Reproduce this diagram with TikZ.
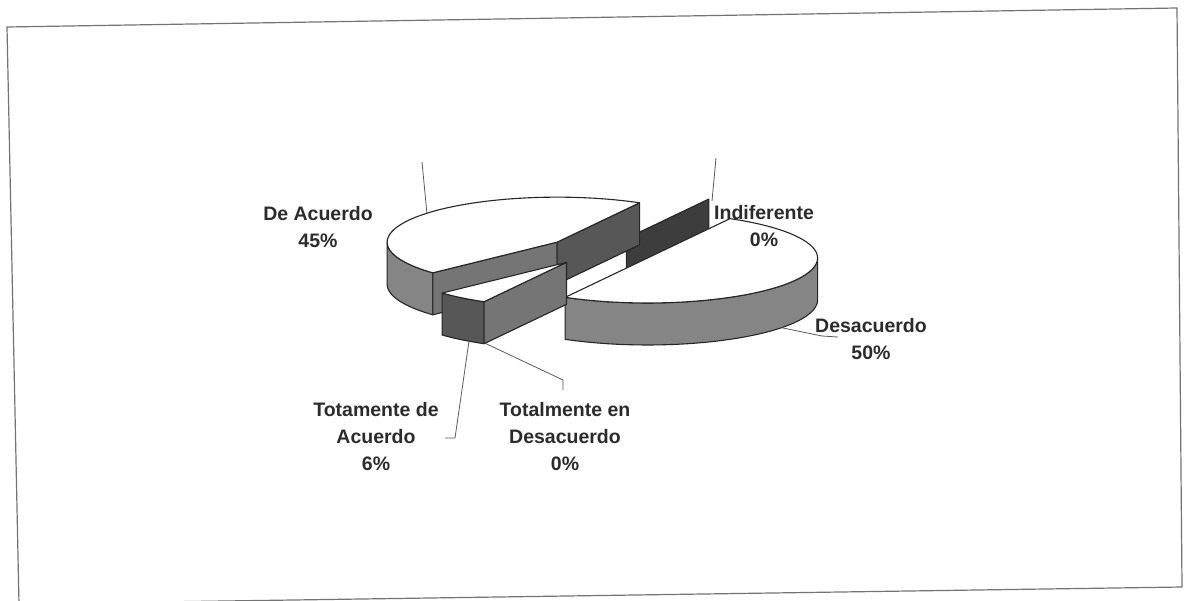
\documentclass[tikz,border=0pt]{standalone}
\usepackage{fontspec}
\setmainfont{Liberation Sans}
\usepackage{tikz}
\definecolor{side}{rgb}{0.52,0.52,0.52}
\definecolor{face}{rgb}{0.46,0.46,0.46}
\definecolor{darkface}{rgb}{0.34,0.34,0.34}
\definecolor{wall}{rgb}{0.24,0.24,0.24}
\definecolor{ink}{rgb}{0.17,0.17,0.17}

\begin{document}
\begin{tikzpicture}[x=1pt, y=-1pt,
	slice/.style={draw=black!85, line width=1.1pt, line join=round},
	label/.style={font=\fontsize{19.5}{27}\selectfont\bfseries, text=ink, align=center, inner sep=0pt},
	leader/.style={draw=black!65, line width=0.8pt}]
	\clip (0,0) rectangle (1188,600);
	\draw[black!55, line width=1.2pt] (7,27) -- (1177,8) -- (1182,587) -- (19,604) -- cycle;
	\def\rx{170} \def\ry{45} \def\h{42}
	% slice centres, pushed out along the middle angle
	\foreach \name/\mid in {ind/61, acu/142, des/-29, tot/232}{
	  \coordinate (\name) at ({600+0.32*\rx*cos(\mid)},{251-0.32*\ry*sin(\mid)});
	}
	% Indiferente (0%)
	\begin{scope}[shift={(ind)}]
		\filldraw[slice, fill=wall] (0,0) -- ({\rx*cos(61)},{-\ry*sin(61)}) -- ++(0,\h) -- (0,\h) -- cycle;
	\end{scope}
	% De Acuerdo
	\begin{scope}[shift={(acu)}]
		\filldraw[slice, fill=side] plot[domain=180:223, variable=\t, samples=20] ({\rx*cos(\t)},{-\ry*sin(\t)})
		  -- plot[domain=223:180, variable=\t, samples=20] ({\rx*cos(\t)},{\h-\ry*sin(\t)}) -- cycle;
		\filldraw[slice, fill=face] (0,0) -- ({\rx*cos(223)},{-\ry*sin(223)}) -- ++(0,\h) -- (0,\h) -- cycle;
		\filldraw[slice, fill=darkface] (0,0) -- ({\rx*cos(61)},{-\ry*sin(61)}) -- ++(0,\h) -- (0,\h) -- cycle;
		\filldraw[slice, fill=white] (0,0) -- plot[domain=61:223, variable=\t, samples=50] ({\rx*cos(\t)},{-\ry*sin(\t)}) -- cycle;
		\coordinate (acu-tip) at ({\rx*cos(140)},{-\ry*sin(140)});
	\end{scope}
	% Desacuerdo
	\begin{scope}[shift={(des)}]
		\filldraw[slice, fill=side] plot[domain=-119:0, variable=\t, samples=40] ({\rx*cos(\t)},{-\ry*sin(\t)})
		  -- plot[domain=0:-119, variable=\t, samples=40] ({\rx*cos(\t)},{\h-\ry*sin(\t)}) -- cycle;
		\filldraw[slice, fill=white] plot[domain=-119:61, variable=\t, samples=60] ({\rx*cos(\t)},{-\ry*sin(\t)}) -- cycle;
		\coordinate (des-tip) at ({\rx*cos(-38)},{\h-\ry*sin(-38)});
	\end{scope}
	% Totamente de Acuerdo, with the 0% Totalmente en Desacuerdo on its edge
	\begin{scope}[shift={(tot)}]
		\filldraw[slice, fill=darkface] plot[domain=223:241, variable=\t, samples=10] ({\rx*cos(\t)},{-\ry*sin(\t)})
		  -- plot[domain=241:223, variable=\t, samples=10] ({\rx*cos(\t)},{\h-\ry*sin(\t)}) -- cycle;
		\filldraw[slice, fill=face] (0,0) -- ({\rx*cos(241)},{-\ry*sin(241)}) -- ++(0,\h) -- (0,\h) -- cycle;
		\filldraw[slice, fill=white] (0,0) -- plot[domain=223:241, variable=\t, samples=10] ({\rx*cos(\t)},{-\ry*sin(\t)}) -- cycle;
		\coordinate (tot-tip) at ({\rx*cos(235)},{\h-\ry*sin(235)});
		\coordinate (ted-tip) at ({\rx*cos(241)+2},{\h-\ry*sin(241)});
	\end{scope}
	\coordinate (ind-tip) at (712,201);
	% labels
	\node[label] (lbl-acu) at (318,227) {De Acuerdo\\45\%};
	\node[label] (lbl-ind) at (764,226) {Indiferente\\0\%};
	\node[label] (lbl-des) at (871,339) {Desacuerdo\\50\%};
	\node[label] (lbl-tot) at (376,437) {Totamente de\\Acuerdo\\6\%};
	\node[label] (lbl-ted) at (565,437) {Totalmente en\\Desacuerdo\\0\%};
	% leader lines
	\coordinate (acu-end) at (422,162);
	\coordinate (ind-end) at (716,158);
	\coordinate (des-end) at (838,337);
	\coordinate (tot-end) at (445,438);
	\coordinate (ted-end) at (563,390);
	\draw[leader] (acu-end) -- (acu-tip);
	\draw[leader] (ind-end) -- (ind-tip);
	\draw[leader] (des-end) -- (822,336) -- (des-tip);
	\draw[leader] (tot-end) -- (455,438) -- (tot-tip);
	\draw[leader] (ted-end) -- (563,380) -- (ted-tip);
\end{tikzpicture}
\end{document}
